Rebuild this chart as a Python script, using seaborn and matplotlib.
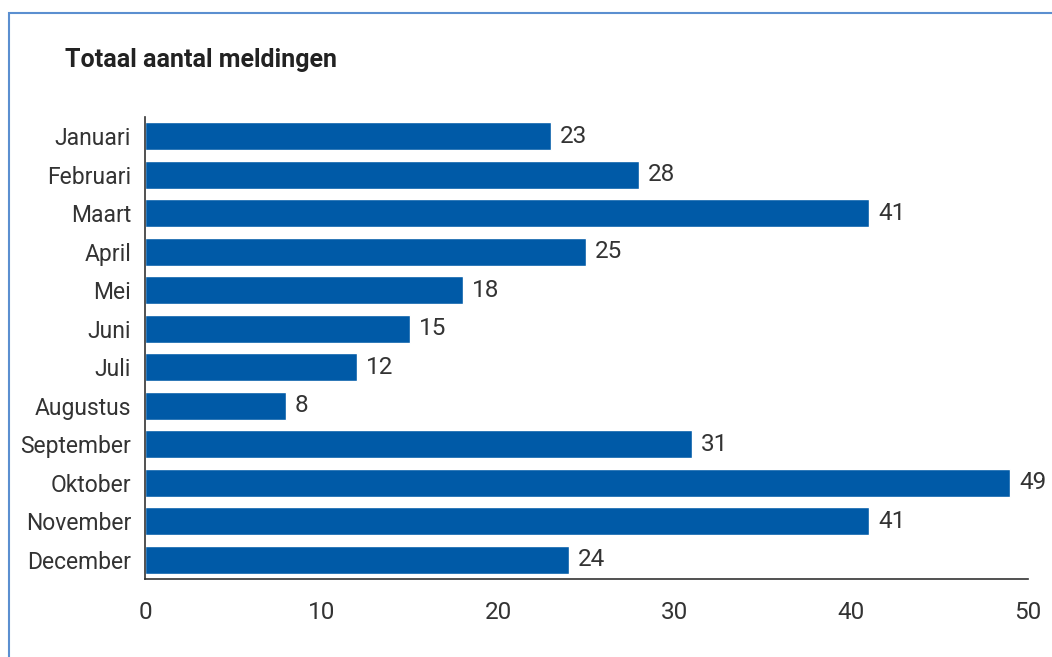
import matplotlib
matplotlib.use("Agg")
import matplotlib.pyplot as plt
import seaborn as sns
import pandas as pd
from matplotlib.patches import Rectangle

maanden = ["Januari", "Februari", "Maart", "April", "Mei", "Juni", "Juli",
           "Augustus", "September", "Oktober", "November", "December"]
meldingen = [23, 28, 41, 25, 18, 15, 12, 8, 31, 49, 41, 24]
x_ticks = [0, 10, 20, 30, 40, 50]

sns.set_style("white")
plt.rcParams['font.family'] = ['Roboto', 'DejaVu Sans']

df = pd.DataFrame({"maand": maanden, "aantal": meldingen})

fig = plt.figure(figsize=(10.52, 6.57), dpi=100)
ax = fig.add_axes([0.1378, 0.1187, 0.8394, 0.7032])

sns.barplot(data=df, x="aantal", y="maand", color="#005aa7", saturation=1,
            width=0.72, ax=ax)

# value labels next to the bars
for i, v in enumerate(meldingen):
    ax.text(v + 0.5, i, str(v), va="center", ha="left", fontsize=17.5,
            color="#333333")

ax.set_xlim(0, 50)
ax.set_ylim(11.5, -0.5)
ax.set_xticks(x_ticks)
ax.set_xticklabels([str(t) for t in x_ticks], fontsize=17.5, color="#333333")
ax.tick_params(axis="x", direction="in", length=8, width=1.2, color="#333333", pad=16)
ax.tick_params(axis="y", length=0, pad=10, labelsize=16.5, labelcolor="#333333")
ax.set_xlabel("")
ax.set_ylabel("")
sns.despine(ax=ax, top=True, right=True)
for s in ["left", "bottom"]:
    ax.spines[s].set_color("#333333")
    ax.spines[s].set_linewidth(1.2)

fig.text(65 / 1052, 1 - 60 / 657, "Totaal aantal meldingen", fontsize=18,
         fontweight="bold", color="#222222", va="center", ha="left")

# blue frame around the chart
fig.patches.append(Rectangle((9 / 1052, -0.1), 1.2, 1 - 13 / 657 + 0.1,
                             transform=fig.transFigure, fill=False,
                             edgecolor="#5b8fd0", linewidth=1.5))

fig.savefig("out.png", dpi=100)
